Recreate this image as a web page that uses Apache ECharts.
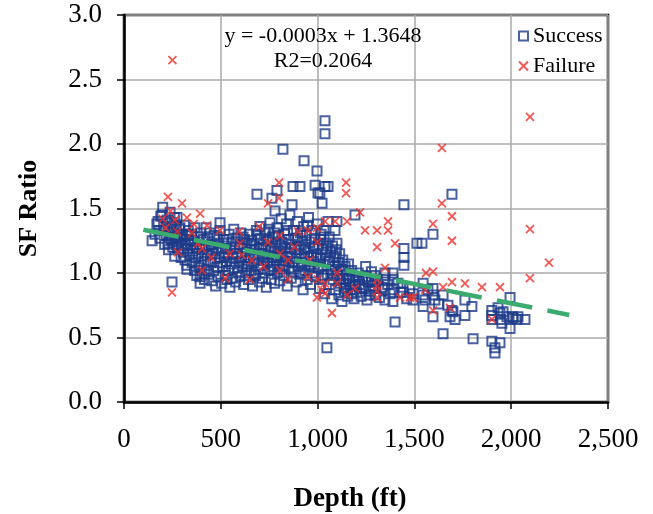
<!DOCTYPE html>
<html>
<head>
<meta charset="utf-8">
<script src="https://cdn.jsdelivr.net/npm/echarts@6/dist/echarts.min.js"></script>
<style>
  html, body { margin: 0; padding: 0; background: #ffffff; }
  #chart { width: 653px; height: 514px; }
</style>
</head>
<body>
<div id="chart"></div>
<script>
// Depth (ft) vs SF ratio, successful cases
const successPoints = [
  [145,1.25],[160,1.30],[170,1.38],[176,1.40],[180,1.33],[185,1.27],[190,1.44],[196,1.45],[200,1.51],[205,1.36],
  [210,1.22],[212,1.33],[218,1.29],[222,1.41],[227,1.23],[230,1.18],[233,1.35],[238,1.47],[238,1.27],[242,1.31],
  [245,1.26],[248,1.39],[248,0.93],[252,1.20],[256,1.34],[260,1.43],[262,1.13],[265,1.27],[268,1.22],[270,1.37],
  [274,1.43],[276,1.30],[280,1.24],[283,1.18],[286,1.34],[289,1.35],[292,1.28],[295,1.12],[298,1.21],[300,1.30],
  [305,1.26],[308,1.16],[312,1.37],[315,1.10],[318,1.22],[322,1.29],[325,1.06],[325,1.03],[328,1.19],[332,1.33],
  [335,1.25],
  [340,1.14],[345,1.22],[350,1.30],[352,1.08],[356,1.17],[360,1.25],[364,1.02],[366,1.35],[370,1.12],[373,1.20],
  [376,0.98],[380,1.28],[382,1.15],[386,1.06],[390,1.22],[393,1.04],[393,0.97],[393,0.92],[396,1.31],[400,1.13],
  [403,1.00],[406,1.18],[410,1.26],[413,1.09],[416,0.95],[420,1.21],[424,1.35],[427,1.03],[430,1.14],[434,1.27],
  [437,0.99],[440,1.18],[444,1.31],[447,1.08],[450,1.22],[453,0.94],[456,1.15],[460,1.20],[463,1.02],[466,1.29],
  [470,1.11],[473,0.90],[476,1.17],[480,1.28],[483,1.05],[486,0.97],[490,1.23],[493,1.12],[496,1.39],[496,1.33],
  [500,1.08],
  [505,0.92],[508,1.19],[511,1.05],[515,1.26],[518,1.13],[522,0.98],[526,1.21],[530,1.09],[532,1.26],[532,0.95],
  [536,1.15],[540,1.02],[543,1.30],[547,0.89],[550,1.18],[553,1.07],[557,1.24],[560,0.96],[564,1.12],[567,1.34],
  [570,1.04],[574,1.20],[577,0.93],[580,1.15],[584,1.15],[587,1.27],[590,1.01],[594,1.09],[597,1.22],[600,0.97],
  [604,1.31],[607,1.13],[610,1.05],[614,1.19],[618,0.91],[622,1.26],[625,1.10],[628,1.00],[632,1.16],[636,1.23],
  [640,1.07],[643,0.95],[647,1.30],[650,1.12],[653,1.18],[657,1.02],[660,1.25],[664,0.90],[668,1.14],[671,1.08],
  [675,1.21],[680,0.98],[684,1.33],[687,1.61],[690,1.11],[694,1.03],[697,1.19],[700,0.93],
  [615,1.28],[635,1.05],[655,1.22],[672,0.99],[690,1.30],
  [702,1.36],[705,1.27],[708,1.06],[712,1.15],[715,0.96],[718,1.22],[722,1.10],[725,1.31],[728,1.00],[732,1.18],
  [735,0.89],[738,1.25],[742,1.08],[745,1.14],[748,1.34],[752,1.02],[754,1.39],[756,1.20],[760,0.95],[764,1.58],
  [765,1.12],[768,1.28],[772,1.05],[775,1.17],[778,0.92],[780,1.48],[782,1.23],[786,1.10],[790,1.64],[790,1.35],
  [792,1.00],[795,1.19],[798,1.29],[802,1.07],[805,0.94],[808,1.15],[812,1.42],[815,1.24],[818,1.03],[821,1.96],
  [822,1.12],[826,0.98],[830,1.30],[833,1.20],[836,1.09],[840,1.38],[843,0.90],[847,1.16],[850,1.26],[853,1.04],
  [857,1.45],[860,1.13],[864,0.96],[868,1.53],[868,1.22],[871,1.08],[873,1.67],[875,1.33],[878,1.01],[882,1.18],
  [885,1.27],[889,0.93],[892,1.11],[896,1.40],[900,1.05],[904,1.21],[908,0.99],[909,1.67],[912,1.31],[915,1.15],
  [918,1.08],[922,1.25],[925,0.87],[928,1.36],[930,1.87],[932,1.12],[935,1.02],[939,1.20],[942,1.29],[946,0.95],
  [950,1.16],[953,1.43],[956,1.06],[960,1.24],[963,0.91],[967,1.13],[970,1.33],[973,1.00],[977,1.19],[980,1.09],
  [984,1.27],[987,1.68],[990,0.97],[994,1.14],[997,1.79],[998,1.38],
  [710,1.19],[727,1.12],[746,1.26],[762,1.03],[777,1.31],[793,1.13],[810,1.21],[826,1.06],[845,1.33],[862,1.19],
  [880,1.09],[898,1.27],[915,1.00],[933,1.18],[948,1.37],[965,1.05],[982,1.21],
  [1002,1.62],[1003,1.04],[1006,1.22],[1010,0.88],[1012,1.62],[1014,1.11],[1018,1.30],[1022,0.96],[1023,1.54],[1026,1.18],
  [1030,1.06],[1033,1.33],[1033,1.28],[1036,0.84],[1038,2.18],[1038,2.08],[1038,1.67],[1040,1.14],[1044,1.23],[1048,0.42],
  [1050,0.99],[1054,1.40],[1054,1.67],[1056,1.09],[1060,1.28],[1063,0.91],[1066,1.17],[1070,1.03],[1073,0.80],[1077,1.21],
  [1080,0.95],[1084,1.12],[1088,1.05],[1090,1.33],[1092,0.87],[1096,1.18],[1100,1.40],[1100,1.23],[1103,0.98],[1107,1.08],
  [1110,0.83],[1114,1.15],[1118,0.92],[1122,1.03],[1126,0.78],[1130,1.10],[1134,0.96],[1138,0.86],[1142,1.05],[1146,0.91],
  [1150,0.99],[1155,0.82],[1160,1.07],[1165,0.94],[1170,0.87],[1176,1.02],[1182,0.90],[1188,0.80],[1193,1.45],[1195,0.97],
  [1000,1.12],[1015,1.26],[1028,0.98],[1045,1.19],[1062,1.09],[1078,1.00],[1095,1.13],[1112,0.95],[1128,1.02],[1144,0.88],
  [1160,0.96],[1178,0.84],[1195,0.91],
  [1202,0.85],[1210,1.00],[1218,0.91],[1225,0.82],[1232,0.96],[1240,0.88],[1248,1.05],[1255,0.79],[1262,0.93],[1270,0.86],
  [1278,1.01],[1285,0.90],[1296,0.98],[1296,0.93],[1296,0.88],[1296,0.83],[1310,0.95],[1320,0.81],[1335,0.89],[1348,1.00],
  [1348,0.95],[1348,0.87],[1348,0.79],[1362,0.91],[1375,0.84],[1389,1.00],[1389,0.95],[1389,0.87],[1389,0.78],[1400,0.62],
  [1415,0.92],[1430,0.85],[1441,0.89],[1446,1.53],[1446,1.19],[1446,1.12],[1446,1.06],[1441,0.85],[1460,0.80],[1475,0.88],
  [1493,0.84],[1493,0.79],
  [1212,0.94],[1230,0.88],[1250,0.97],[1265,0.83],[1280,0.94],
  [1513,1.23],[1539,1.23],[1545,0.92],[1545,0.83],[1545,0.74],[1555,0.79],[1570,0.87],[1596,1.30],[1596,0.88],[1596,0.83],
  [1596,0.66],[1606,0.79],[1625,0.76],[1648,0.83],[1648,0.53],[1673,0.75],[1684,0.66],[1694,1.61],[1694,0.71],[1699,0.70],
  [1710,0.64],[1761,0.79],[1761,0.67],[1797,0.74],[1803,0.49],[1900,0.71],[1900,0.67],[1900,0.64],[1900,0.47],[1916,0.42],
  [1916,0.38],[1932,0.73],[1942,0.69],[1945,0.64],[1952,0.61],[1942,0.46],[1958,0.70],[1978,0.66],[1994,0.81],[1994,0.57],
  [2009,0.65],[2030,0.64],[2035,0.66],[2071,0.64],[2009,0.66]
];

// Depth (ft) vs SF ratio, failed cases
const failurePoints = [
  [250,2.65],[227,1.59],[300,1.54],[393,1.46],[263,1.41],[325,1.43],[429,1.37],[274,1.32],[351,1.31],[382,1.23],
  [403,1.19],[279,1.16],[403,1.02],[248,0.85],[522,0.96],[496,1.33],[547,1.15],[200,1.42],[215,1.35],[240,1.48],
  [360,1.38],[450,1.12],
  [801,1.70],[744,1.54],[801,1.58],[697,1.36],[594,1.32],[599,1.23],[609,1.14],[744,1.24],[806,1.29],[899,1.32],
  [950,1.33],[997,1.35],[997,1.24],[806,1.15],[847,1.10],[806,1.02],[651,0.95],[847,0.95],[950,0.97],[1002,0.95],
  [1023,0.87],[997,0.81],[660,1.10],[720,1.05],[880,1.20],[960,1.10],
  [1147,1.70],[1147,1.62],[1219,1.47],[1038,1.40],[1090,1.40],[1152,1.40],[1245,1.33],[1307,1.33],[1364,1.40],[1364,1.33],
  [1307,1.20],[1400,1.23],[1348,1.04],[1100,1.00],[1100,0.92],[1193,0.88],[1307,0.95],[1307,0.90],[1307,0.86],[1307,0.81],
  [1074,0.69],[1152,0.83],[1426,0.81],[1477,0.81],[1038,0.92],[1038,0.84],
  [1642,1.97],[1642,1.54],[1694,1.44],[1596,1.38],[1694,1.25],[1560,1.00],[1596,1.01],[1648,0.89],[1694,0.93],[1761,0.92],
  [1849,0.89],[1942,0.89],[1493,0.81],[1555,0.87],[1596,0.71],[1684,0.73],[1900,0.64],
  [2097,2.21],[2097,1.34],[2195,1.08],[2097,0.96]
];

// Linear fit y = slope * x + intercept, drawn over the depth span below
const fitSlope = -0.0003;
const fitIntercept = 1.3648;
const fitRange = [100, 2300];
const fitLabel = ['y = -0.0003x + 1.3648', 'R2=0.2064'];

const xTicks = [0, 500, 1000, 1500, 2000, 2500];
const yTicks = [0, 0.5, 1.0, 1.5, 2.0, 2.5, 3.0];

const fitLine = fitRange.map(x => [x, fitSlope * x + fitIntercept]);

const serif = 'Liberation Serif';
const chart = echarts.init(document.getElementById('chart'), null, { renderer: 'canvas' });

chart.setOption({
  backgroundColor: '#ffffff',
  animation: false,
  textStyle: { fontFamily: serif, color: '#000' },
  grid: {
    left: 124, top: 15, right: 45, bottom: 112,
    outerBoundsMode: 'none', containLabel: false,
    show: true, borderColor: '#000', borderWidth: 2.5, backgroundColor: '#fff'
  },
  title: {
    text: fitLabel.join('\n'),
    left: 318, top: 19, textAlign: 'center',
    textStyle: { fontFamily: serif, fontSize: 22, fontWeight: 'normal', color: '#000', lineHeight: 25 }
  },
  legend: {
    orient: 'vertical', left: 513, top: 19, itemGap: 6, itemWidth: 9, itemHeight: 9,
    textStyle: { fontFamily: serif, fontSize: 22, color: '#000', lineHeight: 24 },
    data: ['Success', 'Failure']
  },
  xAxis: {
    type: 'value', min: xTicks[0], max: xTicks[xTicks.length - 1], interval: 500,
    name: 'Depth (ft)', nameLocation: 'middle', nameGap: 84,
    nameTextStyle: {
      fontFamily: serif, fontSize: 27, fontWeight: 'bold', color: '#000',
      padding: [0, 32, 0, 0]
    },
    axisLine: { show: true, lineStyle: { color: '#000', width: 2.5 } },
    axisTick: { show: true, inside: false, length: 7, lineStyle: { color: '#000', width: 1.5 } },
    axisLabel: {
      fontFamily: serif, fontSize: 27, color: '#000', margin: 24,
      formatter: v => v.toLocaleString('en-US')
    },
    splitLine: { show: true, lineStyle: { color: '#aaaaaa', width: 1.5 } }
  },
  yAxis: {
    type: 'value', min: yTicks[0], max: yTicks[yTicks.length - 1], interval: 0.5,
    name: 'SF Ratio', nameLocation: 'middle', nameGap: 82, nameRotate: 90,
    nameTextStyle: { fontFamily: serif, fontSize: 26, fontWeight: 'bold', color: '#000' },
    axisLine: { show: true, lineStyle: { color: '#000', width: 2.5 } },
    axisTick: { show: true, inside: false, length: 7, lineStyle: { color: '#000', width: 1.5 } },
    axisLabel: {
      fontFamily: serif, fontSize: 27, color: '#000', margin: 22,
      formatter: v => v.toFixed(1)
    },
    splitLine: { show: true, lineStyle: { color: '#aaaaaa', width: 1.5 } }
  },
  series: [
    {
      name: 'Success', type: 'scatter', data: successPoints,
      symbol: 'rect', symbolSize: 9,
      itemStyle: { color: 'rgba(255,255,255,0)', borderColor: '#1b3a88', borderWidth: 2 },
      z: 2
    },
    {
      name: 'Failure', type: 'scatter', data: failurePoints,
      symbol: 'path://M0,0L10,10M10,0L0,10', symbolSize: 8,
      itemStyle: { color: 'rgba(255,255,255,0)', borderColor: '#ee2f2a', borderWidth: 1.8 },
      z: 3
    },
    {
      name: 'Fit', type: 'line', data: fitLine,
      showSymbol: false, silent: true,
      lineStyle: { color: '#3cab6f', width: 4.5, type: [36, 15.5] },
      z: 4
    }
  ]
});
</script>
</body>
</html>
